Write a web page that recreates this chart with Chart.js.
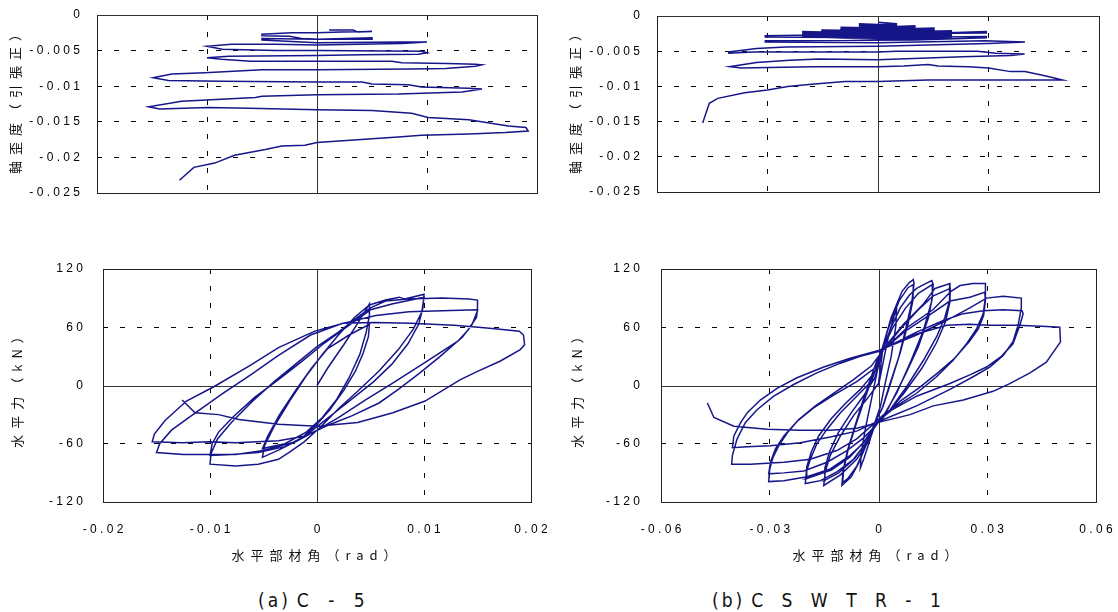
<!DOCTYPE html>
<html><head><meta charset="utf-8">
<script src="https://cdn.jsdelivr.net/npm/chart.js@4.4.1/dist/chart.umd.min.js"></script>
<style>
html,body{margin:0;padding:0;background:#fff;width:1118px;height:612px;overflow:hidden;position:relative}
canvas{position:absolute}
.yt{position:absolute;transform:translate(-50%,-50%) rotate(-90deg);white-space:nowrap;font-family:"Noto Sans CJK JP";font-size:13px;letter-spacing:6px;color:#111;line-height:16px}
.xt{position:absolute;transform:translate(-50%,-50%);white-space:nowrap;font-family:"Noto Sans CJK JP";font-size:13px;letter-spacing:6px;color:#111;line-height:16px}
.cap{position:absolute;top:588px;white-space:nowrap;font-family:"Liberation Sans Narrow","DejaVu Sans Condensed",sans-serif;font-size:19px;line-height:24px;color:#111}
.cap span{display:inline-block}
</style></head><body>
<canvas id="tl" width="550" height="200" style="left:0;top:0"></canvas>
<canvas id="tr" width="550" height="200" style="left:560px;top:0"></canvas>
<canvas id="bl" width="560" height="318" style="left:0;top:254px"></canvas>
<canvas id="br" width="560" height="318" style="left:558px;top:254px"></canvas>

<div class="yt" style="left:15px;top:98px">軸歪度（引張正）</div>
<div class="yt" style="left:575px;top:98px">軸歪度（引張正）</div>
<div class="yt" style="left:17px;top:386px">水平力（kN）</div>
<div class="yt" style="left:577px;top:386px">水平力（kN）</div>
<div class="xt" style="left:317px;top:555px">水平部材角（rad）</div>
<div class="xt" style="left:878px;top:555px">水平部材角（rad）</div>
<div class="cap" style="left:258px"><span style="letter-spacing:3px">(a)</span><span style="letter-spacing:7px;margin-left:6px">C - 5</span></div>
<div class="cap" style="left:712px"><span style="letter-spacing:3px">(b)</span><span style="letter-spacing:6.5px;margin-left:6px">C S W T R - 1</span></div>

<script>
// ---- tick values / labels ----
const strainTicks = [-0.025, -0.02, -0.015, -0.01, -0.005, 0];
const strainTickLabels = ['-0.025', '-0.02', '-0.015', '-0.01', '-0.005', '0'];
const forceTicks = [-120, -60, 0, 60, 120];
const forceTickLabels = ['-120', '-60', '0', '60', '120'];
const angleTicksA = [-0.02, -0.01, 0, 0.01, 0.02];
const angleTickLabelsA = ['-0.02', '-0.01', '0', '0.01', '0.02'];
const angleTicksB = [-0.06, -0.03, 0, 0.03, 0.06];
const angleTickLabelsB = ['-0.06', '-0.03', '0', '0.03', '0.06'];

// ---- (a) C-5 : axial strain vs member angle [angle, strain] ----
const c5StrainPath = [[0.0011,-0.0021],[0.0033,-0.0021],[0.0037,-0.0024],[0.0050,-0.0023],[0.0022,-0.0024],[0,-0.0025],[-0.0023,-0.0025],[-0.0050,-0.0027],[-0.0050,-0.0029],[-0.0025,-0.0030],[-0.0014,-0.0033],[0,-0.0034],[0.0050,-0.0032],[0.0050,-0.0034],[0,-0.0034],[-0.0050,-0.0033],[-0.0050,-0.0035],[0,-0.0039],[0.0077,-0.0038],[0.0100,-0.0038],[0.0077,-0.0040],[0,-0.0042],[-0.0038,-0.0041],[-0.0078,-0.0041],[-0.0100,-0.0044],[-0.0086,-0.0048],[-0.0038,-0.0050],[0,-0.0050],[0.0095,-0.0051],[0.0100,-0.0053],[0.0092,-0.0055],[0.0040,-0.0056],[0,-0.0057],[-0.0080,-0.0058],[-0.0100,-0.0060],[-0.0087,-0.0062],[-0.0060,-0.0065],[0,-0.0065],[0.0068,-0.0065],[0.0077,-0.0067],[0.0118,-0.0068],[0.0144,-0.0069],[0.0150,-0.0070],[0.0144,-0.0072],[0.0117,-0.0075],[0.0086,-0.0076],[0,-0.0077],[-0.0050,-0.0077],[-0.0102,-0.0081],[-0.0132,-0.0083],[-0.0149,-0.0088],[-0.0135,-0.0092],[-0.0087,-0.0093],[0,-0.0094],[0.0041,-0.0094],[0.0050,-0.0097],[0.0083,-0.0098],[0.0095,-0.0101],[0.0138,-0.0103],[0.0150,-0.0104],[0.0132,-0.0108],[0.0074,-0.0111],[0,-0.0112],[-0.0050,-0.0114],[-0.0056,-0.0116],[-0.0123,-0.0121],[-0.0153,-0.0129],[-0.0143,-0.0132],[-0.0099,-0.0130],[-0.0062,-0.0131],[0,-0.0133],[0.0050,-0.0134],[0.0086,-0.0138],[0.0101,-0.0144],[0.0138,-0.0147],[0.0174,-0.0156],[0.0190,-0.0158],[0.0192,-0.0163],[0.0171,-0.0165],[0.0138,-0.0167],[0.0095,-0.0169],[0.0077,-0.0171],[0,-0.0179],[-0.0011,-0.0183],[-0.0032,-0.0184],[-0.0047,-0.0189],[-0.0075,-0.0197],[-0.0093,-0.0208],[-0.0112,-0.0214],[-0.0125,-0.0232]];

// ---- (a) C-5 : horizontal force vs member angle [angle, kN] ----
const c5ForcePath = [[0,0],[0.0010,18],[0.0025,42],[0.0038,64],[0.0049,84],
[0.0049,72],[0.0046,55],[0.0040,32],[0.0030,8],[0.0018,-15],[0.0005,-33],[-0.0010,-48],[-0.0030,-60],[-0.0051,-65],
[-0.0046,-52],[-0.0035,-30],[-0.0020,-5],[-0.0005,18],[0.0010,38],[0.0030,52],[0.0049,63],
[0.0048,50],[0.0043,33],[0.0036,15],[0.0025,-5],[0.0012,-25],[0,-40],[-0.0015,-55],[-0.0035,-66],[-0.0051,-74],
[-0.0049,-62],[-0.0040,-42],[-0.0025,-15],[-0.0010,10],[0.0005,32],[0.0020,52],[0.0035,70],[0.0049,83],[0.0064,88],[0.0077,91],[0.0082,89],[0.0100,94],
[0.0099,80],[0.0095,63],[0.0085,43],[0.0070,22],[0.0053,4],[0.0036,-11],[0.0020,-25],[0.0005,-38],[-0.0011,-52],[-0.0030,-63],[-0.0055,-69],[-0.0080,-71],[-0.0100,-72],
[-0.0098,-60],[-0.0092,-48],[-0.0078,-32],[-0.0058,-12],[-0.0036,6],[-0.0015,24],[0.0005,42],[0.0025,58],[0.0050,78],[0.0070,84],[0.0100,91],
[0.0098,76],[0.0090,58],[0.0076,37],[0.0058,15],[0.0038,-6],[0.0020,-24],[0.0004,-42],[-0.0012,-58],[-0.0025,-68],[-0.0036,-76],[-0.0055,-81],[-0.0076,-83],[-0.0100,-81],
[-0.0099,-70],[-0.0093,-55],[-0.0080,-38],[-0.0060,-16],[-0.0040,4],[-0.0020,22],[0,40],[0.0020,55],[0.0040,72],[0.0050,80],[0.0064,87],[0.0085,89],[0.0117,90],[0.0142,89],[0.0150,88],
[0.0150,77],[0.0145,63],[0.0136,50],[0.0114,29],[0.0095,12],[0.0076,-4],[0.0058,-18],[0.0033,-31],[0.0008,-42],[-0.0011,-52],[-0.0036,-57],[-0.0076,-59],[-0.0101,-58],[-0.0126,-59],[-0.0154,-58],
[-0.0152,-50],[-0.0142,-36],[-0.0122,-16],[-0.0096,-1],[-0.0062,21],[-0.0036,39],[-0.0002,56],[0.0024,64],[0.0055,72],[0.0086,76],[0.0117,77],[0.0150,78],
[0.0149,70],[0.0141,57],[0.0132,46],[0.0100,23],[0.0070,2],[0.0045,-15],[0.0020,-33],[0,-46],[-0.0020,-58],[-0.0050,-67],[-0.0076,-71],[-0.0100,-71],[-0.0125,-71],[-0.0150,-69],
[-0.0147,-60],[-0.0136,-46],[-0.0116,-30],[-0.0089,-9],[-0.0062,11],[-0.0036,31],[-0.0006,52],[0.0024,64],[0.0054,65],[0.0088,64],[0.0128,62],[0.0151,60],[0.0171,58],[0.0189,56],[0.0193,52],[0.0194,42],[0.0190,37],
[0.0171,25],[0.0151,15],[0.0134,6],[0.0101,-16],[0.0071,-28],[0.0038,-38],[0,-42],[-0.0036,-40],[-0.0073,-35],[-0.0092,-30],[-0.0114,-28],[-0.0126,-15]];

// ---- (b) CSWTR-1 : axial strain vs member angle ----
const swStrainPath = [[0,-0.0009],[0.0050,-0.0011],[0.0050,-0.0012],[0,-0.0012],[-0.0050,-0.0011],[-0.0050,-0.0013],[0,-0.0013],[0.0050,-0.0013],[0.0050,-0.0015],[0,-0.0015],[-0.0050,-0.0015],[-0.0050,-0.0017],[0,-0.0017],[0.0050,-0.0017],[0.0050,-0.0019],[0,-0.0019],[-0.0050,-0.0019],
[-0.0050,-0.0018],[0,-0.0016],[0.0100,-0.0014],[0.0100,-0.0016],[0,-0.0017],[-0.0100,-0.0016],[-0.0100,-0.0018],[0,-0.0019],[0.0100,-0.0018],[0.0100,-0.0020],[0,-0.0021],[-0.0100,-0.0020],[-0.0100,-0.0022],[0,-0.0023],[0.0100,-0.0022],[0.0100,-0.0024],[0,-0.0025],[-0.0100,-0.0024],
[-0.0100,-0.0022],[0,-0.0019],[0.0152,-0.0017],[0.0152,-0.0019],[0,-0.0021],[-0.0152,-0.0020],[-0.0152,-0.0022],[0,-0.0023],[0.0152,-0.0021],[0.0152,-0.0023],[0,-0.0025],[-0.0152,-0.0024],[-0.0152,-0.0026],[0,-0.0027],[0.0152,-0.0025],[0.0152,-0.0027],[0,-0.0029],[-0.0152,-0.0028],
[-0.0152,-0.0026],[0,-0.0023],[0.0199,-0.0021],[0.0199,-0.0023],[0,-0.0025],[-0.0204,-0.0022],[-0.0204,-0.0024],[0,-0.0027],[0.0199,-0.0025],[0.0199,-0.0027],[0,-0.0029],[-0.0204,-0.0026],[-0.0204,-0.0028],[0,-0.0031],[0.0199,-0.0029],[0.0199,-0.0031],[0,-0.0033],[-0.0204,-0.0030],
[-0.0204,-0.0029],[0,-0.0027],[0.0294,-0.0022],[0.0294,-0.0024],[0.010,-0.0025],[-0.0306,-0.0028],[-0.0306,-0.0030],[0,-0.0031],[0.0294,-0.0029],[0.0294,-0.0031],[0.010,-0.0034],[-0.0306,-0.0035],[-0.0306,-0.0037],[0,-0.0038],[0.0290,-0.0035],
[0.0399,-0.0037],[0.0300,-0.0039],[0,-0.0043],[-0.0250,-0.0044],[-0.0330,-0.0046],[-0.0405,-0.0051],[-0.0405,-0.0053],[-0.0340,-0.0051],[0,-0.0051],[0.0050,-0.0050],[0.0270,-0.0050],[0.0320,-0.0053],[0.0398,-0.0054],[0.0360,-0.0056],[0.0230,-0.0058],[0,-0.0062],[-0.0160,-0.0061],[-0.0240,-0.0063],[-0.0330,-0.0066],[-0.0403,-0.0072],[-0.0370,-0.0074],[-0.0180,-0.0072],[0,-0.0072],[0.0070,-0.0071],[0.0136,-0.0069],[0.0163,-0.0071],[0.0245,-0.0072],[0.0300,-0.0074],[0.0360,-0.0079],[0.0399,-0.0079],[0.0453,-0.0085],[0.0501,-0.0091],[0.0360,-0.0091],[0.0136,-0.0091],[0,-0.0093],[-0.0090,-0.0093],[-0.0180,-0.0097],[-0.0245,-0.0100],[-0.0300,-0.0105],[-0.0362,-0.0109],[-0.0435,-0.0117],[-0.0458,-0.0124],[-0.0476,-0.0152]];

// ---- (b) CSWTR-1 : horizontal force vs member angle ----
const swForcePath = [[0,0],[0.0015,28],[0.0030,55],[0.0050,80],
[0.0048,62],[0.0035,30],[0.0020,5],[0.0005,-22],[-0.0010,-38],[-0.0025,-58],[-0.0040,-75],[-0.0050,-85],
[-0.0048,-70],[-0.0035,-42],[-0.0020,-15],[-0.0005,12],[0.0010,38],[0.0035,70],[0.0065,97],[0.0085,106],[0.0096,109],
[0.0098,105],[0.0092,86],[0.0075,58],[0.0055,28],[0.0030,0],[0.0010,-24],[-0.0010,-38],[-0.0030,-58],[-0.0055,-80],[-0.0075,-94],[-0.0095,-101],[-0.0101,-103],
[-0.0098,-88],[-0.0085,-66],[-0.0065,-42],[-0.0045,-18],[-0.0025,4],[-0.0005,25],[0.0010,38],[0.0030,62],[0.0058,88],[0.0082,101],[0.0096,104],
[0.0095,88],[0.0082,64],[0.0060,34],[0.0035,4],[0.0012,-22],[-0.0010,-38],[-0.0035,-62],[-0.0060,-83],[-0.0085,-96],[-0.0099,-100],
[-0.0096,-86],[-0.0083,-65],[-0.0060,-38],[-0.0040,-16],[-0.0020,5],[0,25],[0.0012,38],[0.0035,60],[0.0060,80],[0.0085,93],[0.0105,100],[0.0130,105],[0.0147,108],
[0.0151,104],[0.0147,87],[0.0124,57],[0.0087,23],[0.0050,-8],[0.0014,-31],[-0.0009,-40],[-0.0023,-55],[-0.0060,-76],[-0.0105,-92],[-0.0151,-103],
[-0.0147,-89],[-0.0133,-72],[-0.0105,-52],[-0.0069,-31],[-0.0032,-14],[0,2],[0.0012,38],[0.0040,60],[0.0075,80],[0.0110,95],[0.0148,104],
[0.0149,92],[0.0138,70],[0.0110,40],[0.0075,12],[0.0040,-14],[0.0012,-34],[-0.0010,-40],[-0.0030,-56],[-0.0065,-75],[-0.0110,-90],[-0.0150,-98],
[-0.0148,-85],[-0.0135,-68],[-0.0110,-48],[-0.0075,-28],[-0.0040,-10],[-0.0010,8],[0.0014,38],[0.0069,63],[0.0124,84],[0.0156,100],[0.0197,105],
[0.0197,104],[0.0195,87],[0.0183,70],[0.0160,50],[0.0124,26],[0.0078,-1],[0.0032,-25],[-0.0005,-38],[-0.0032,-58],[-0.0069,-76],[-0.0115,-89],[-0.0160,-98],[-0.0202,-101],
[-0.0199,-89],[-0.0188,-76],[-0.0170,-60],[-0.0142,-45],[-0.0105,-28],[-0.0060,-11],[-0.0020,4],[0.0012,36],[0.0060,58],[0.0110,78],[0.0150,92],[0.0198,100],
[0.0197,86],[0.0185,66],[0.0160,44],[0.0120,18],[0.0070,-8],[0.0030,-26],[-0.0008,-40],[-0.0040,-58],[-0.0080,-74],[-0.0130,-87],[-0.0200,-96],
[-0.0198,-84],[-0.0185,-68],[-0.0165,-52],[-0.0130,-34],[-0.0090,-18],[-0.0050,-4],[-0.0010,14],[0.0012,36],[0.0080,60],[0.0150,78],[0.0200,97],[0.0225,103],[0.0260,105],[0.0295,105],
[0.0295,91],[0.0289,74],[0.0270,58],[0.0243,43],[0.0206,26],[0.0160,9],[0.0105,-8],[0.0050,-21],[0.0005,-35],[-0.0041,-59],[-0.0078,-72],[-0.0133,-86],[-0.0197,-94],[-0.0261,-98],[-0.0303,-99],
[-0.0300,-86],[-0.0291,-74],[-0.0275,-62],[-0.0252,-49],[-0.0220,-35],[-0.0174,-21],[-0.0124,-8],[-0.0069,6],[-0.0020,20],[0.0012,36],[0.0070,55],[0.0130,70],[0.0197,87],[0.0252,91],[0.0293,96],
[0.0295,88],[0.0290,72],[0.0275,58],[0.0250,45],[0.0210,28],[0.0160,12],[0.0110,-3],[0.0060,-16],[0.0020,-30],[-0.0005,-40],[-0.0041,-54],[-0.0087,-67],[-0.0142,-79],[-0.0206,-88],[-0.0261,-90],[-0.0303,-91],
[-0.0298,-79],[-0.0284,-65],[-0.0261,-52],[-0.0225,-37],[-0.0179,-23],[-0.0124,-10],[-0.0060,4],[-0.0010,18],[0.0014,38],[0.0105,52],[0.0188,67],[0.0252,80],[0.0298,90],[0.0344,92],[0.0394,90],
[0.0394,80],[0.0385,62],[0.0371,45],[0.0344,31],[0.0307,19],[0.0261,9],[0.0197,-4],[0.0105,-21],[0.0014,-35],[-0.0009,-38],[-0.0060,-55],[-0.0115,-67],[-0.0188,-76],[-0.0261,-79],[-0.0353,-81],[-0.0405,-81],
[-0.0403,-72],[-0.0390,-55],[-0.0367,-38],[-0.0335,-25],[-0.0289,-11],[-0.0234,1],[-0.0170,13],[-0.0105,23],[-0.0050,30],[0,35],[0.0014,38],[0.0105,55],[0.0179,67],[0.0234,74],[0.0289,77],[0.0344,78],[0.0396,77],
[0.0399,74],[0.0390,62],[0.0371,43],[0.0339,30],[0.0298,19],[0.0252,11],[0.0197,2],[0.0105,-11],[0.0014,-30],[-0.0009,-38],[-0.0060,-47],[-0.0133,-53],[-0.0216,-59],[-0.0298,-62],[-0.0362,-63],[-0.0403,-64],
[-0.0399,-52],[-0.0380,-38],[-0.0362,-28],[-0.0326,-15],[-0.0280,-3],[-0.0225,8],[-0.0151,19],[-0.0078,28],[0,36],[0.0014,38],[0.0105,53],[0.0188,62],[0.0250,63],[0.0307,62],[0.0380,62],[0.0450,61],[0.0500,60],
[0.0502,45],[0.0463,24],[0.0418,13],[0.0362,2],[0.0316,-6],[0.0234,-15],[0.0151,-21],[0.0087,-30],[0,-38],[-0.0060,-44],[-0.0133,-46],[-0.0216,-46],[-0.0307,-45],[-0.0399,-42],[-0.0454,-33],[-0.0472,-18]];

// ---- styling ----
const LINE_COLOR = '#16168a';
const TICK_FONT = {family: 'Liberation Sans', size: 12};
const spaced = s => s.split('').join(' ');

const framePlugin = {
  id: 'frame',
  beforeDatasetsDraw(chart) {
    const {ctx, chartArea: a, scales: {x, y}} = chart;
    ctx.save();
    ctx.setLineDash([]);
    ctx.lineWidth = 1;
    ctx.strokeStyle = '#222';
    const L = Math.round(a.left) + 0.5, R = Math.round(a.right) + 0.5;
    const T = Math.round(a.top) + 0.5, B = Math.round(a.bottom) + 0.5;
    ctx.strokeRect(L, T, R - L, B - T);
    ctx.strokeStyle = '#333';
    const zx = Math.round(x.getPixelForValue(0)) + 0.5;
    ctx.beginPath(); ctx.moveTo(zx, T); ctx.lineTo(zx, B); ctx.stroke();
    const zy = Math.round(y.getPixelForValue(0)) + 0.5;
    ctx.beginPath(); ctx.moveTo(L, zy); ctx.lineTo(R, zy); ctx.stroke();
    ctx.restore();
  }
};

function gridColor(c) { return (c.tick && c.tick.value === 0) ? 'rgba(0,0,0,0)' : '#000'; }
function noEdgePadding(s) { s.paddingTop = 0; s.paddingBottom = 0; s.paddingLeft = 0; s.paddingRight = 0; }

function makePanel(id, path, o) {
  new Chart(document.getElementById(id), {
    type: 'scatter',
    data: { datasets: [{
      data: path.map(p => ({x: p[0], y: p[1]})),
      showLine: true, borderColor: LINE_COLOR, borderWidth: 1.5,
      pointRadius: 0, tension: 0, fill: false
    }]},
    options: {
      responsive: false, animation: false, events: [],
      layout: { padding: o.pad },
      plugins: { legend: {display: false}, tooltip: {enabled: false} },
      scales: {
        x: {
          type: 'linear', min: o.xTicks[0], max: o.xTicks[o.xTicks.length - 1],
          afterBuildTicks: s => { s.ticks = o.xTicks.map(v => ({value: v})); },
          afterFit: s => { s.height = o.xH; noEdgePadding(s); },
          grid: { color: gridColor, lineWidth: 1, drawTicks: false },
          border: { display: false, dash: [5, 12] },
          ticks: { display: !!o.xLabels, padding: 20, font: TICK_FONT, color: '#000', maxRotation: 0, autoSkip: false,
                   callback: (v, i) => o.xLabels ? spaced(o.xLabels[i]) : '' }
        },
        y: {
          type: 'linear', min: o.yTicks[0], max: o.yTicks[o.yTicks.length - 1],
          afterBuildTicks: s => { s.ticks = o.yTicks.map(v => ({value: v})); },
          afterFit: s => { s.width = o.yW; noEdgePadding(s); },
          grid: { color: gridColor, lineWidth: 1, drawTicks: false },
          border: { display: false, dash: [5, 12] },
          ticks: { padding: o.yPad, font: TICK_FONT, color: '#000', autoSkip: false,
                   callback: (v, i) => spaced(o.yLabels[i]) }
        }
      }
    },
    plugins: [framePlugin]
  });
}

makePanel('tl', c5StrainPath, { pad: {top: 15, right: 13, left: 0, bottom: 0}, yW: 97, xH: 7, yPad: 17,
  xTicks: angleTicksA, xLabels: null, yTicks: strainTicks, yLabels: strainTickLabels });
makePanel('tr', swStrainPath, { pad: {top: 16, right: 11, left: 0, bottom: 0}, yW: 97, xH: 8, yPad: 17,
  xTicks: angleTicksB, xLabels: null, yTicks: strainTicks, yLabels: strainTickLabels });
makePanel('bl', c5ForcePath, { pad: {top: 15, right: 29, left: 0, bottom: 0}, yW: 103, xH: 70, yPad: 20,
  xTicks: angleTicksA, xLabels: angleTickLabelsA, yTicks: forceTicks, yLabels: forceTickLabels });
makePanel('br', swForcePath, { pad: {top: 15, right: 22, left: 0, bottom: 0}, yW: 103, xH: 70, yPad: 21,
  xTicks: angleTicksB, xLabels: angleTickLabelsB, yTicks: forceTicks, yLabels: forceTickLabels });
</script>
</body></html>
